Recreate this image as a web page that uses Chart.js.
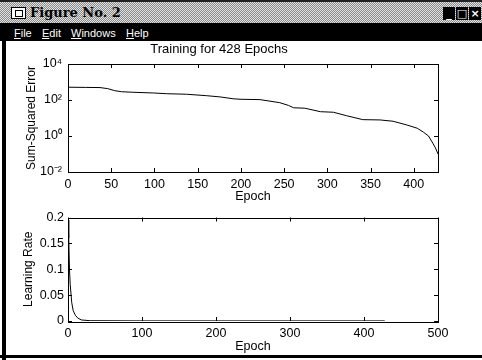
<!DOCTYPE html>
<html lang="en">
<head>
  <meta charset="UTF-8">
  <title>Figure No. 2</title>
  <style>
    body { margin: 0; background: #fff; }
    #win { position: relative; width: 482px; height: 360px; overflow: hidden; background: #fff; font-family: "Liberation Sans", Arial, sans-serif; }
    #topline { position: absolute; left: 0; top: 0; width: 482px; height: 2px; background: #222; }
    #titlebar { position: absolute; left: 0; top: 2px; width: 482px; height: 21px;
      background: repeating-conic-gradient(#8a8a8a 0 25%, #e2e2e2 0 50%) 0 0 / 2px 2px; }
    #titlebar .icon { position: absolute; left: 11px; top: 5px; width: 13px; height: 10px; border: 1px solid #000; background: #fff; }
    #titlebar .icon:after { content: ""; position: absolute; left: 3px; top: 2px; width: 6px; height: 5px; border: 1px solid #000; }
    #titlebar .txt { position: absolute; left: 30px; top: 3px; font: bold 13px "DejaVu Serif", serif; color: #000; }
    .btn { position: absolute; top: 5px; width: 12px; height: 13px; background: #000; color: #fff; font: bold 11px "DejaVu Sans", sans-serif; text-align: center; line-height: 13px; }
    #menubar { position: absolute; left: 0; top: 23px; width: 482px; height: 18px; background: #000; color: #fff; font-size: 11px; }
    #menubar span { position: absolute; top: 4px; }
    #menubar u { text-decoration: underline; }
    #leftborder { position: absolute; left: 2px; top: 41px; width: 4px; height: 319px; background: #000; z-index: 5; }
    #bottomborder { position: absolute; left: 0; top: 355px; width: 482px; height: 3px; background: #000; z-index: 5; }
    canvas { position: absolute; left: 0; }
    #c1 { top: 41px; }
    #c2 { top: 206px; }
  </style>
</head>
<body>
<div id="win">
  <div id="topline"></div>
  <div id="titlebar">
    <div class="icon"></div>
    <div class="txt">Figure No. 2</div>
    <div class="btn" style="left:443px">_</div>
    <div class="btn" style="left:456px">&#9633;</div>
    <div class="btn" style="left:469px">&#215;</div>
  </div>
  <div id="menubar">
    <span style="left:14px"><u>F</u>ile</span>
    <span style="left:42px"><u>E</u>dit</span>
    <span style="left:71px"><u>W</u>indows</span>
    <span style="left:126px"><u>H</u>elp</span>
  </div>
  <div id="leftborder"></div>
  <div id="bottomborder"></div>
  <canvas id="c1" width="482" height="163"></canvas>
  <canvas id="c2" width="482" height="150"></canvas>
</div>

<script src="https://cdn.jsdelivr.net/npm/chart.js"></script>
<script>
  // sum-squared error
  const sseEpochs = [0, 20, 37, 46, 54, 62, 75, 99, 114, 137, 160, 176, 191, 199, 222, 245, 255, 261, 274, 292, 307, 322, 341, 361, 376, 392, 404, 411, 417, 422, 425, 428];
  const sseValues = [513, 501, 490, 427, 331, 288, 269, 245, 224, 209, 174, 148, 117, 110, 105, 71, 50, 37, 35, 22.4, 20.9, 13.5, 8.1, 7.8, 6.6, 4.1, 2.7, 1.66, 1.0, 0.40, 0.22, 0.10];

  // learning rate
  const lrEpochs = [0, 1, 2, 3, 5, 7, 10, 13, 18, 30, 100, 200, 300, 428];
  const lrValues = [0.195, 0.16, 0.10, 0.07, 0.036, 0.02, 0.011, 0.006, 0.002, 0.0006, 0.0002, 0.0002, 0.0002, 0.0002];

  const sseTicksX = [0, 50, 100, 150, 200, 250, 300, 350, 400];
  const sseTicksY = [0.01, 1, 100, 10000];
  const lrTicksX = [0, 100, 200, 300, 400, 500];
  const lrTicksY = [0, 0.05, 0.1, 0.15, 0.2];

  Chart.defaults.font.family = '"Liberation Sans", Arial, Helvetica, sans-serif';
  Chart.defaults.font.size = 12;
  Chart.defaults.color = '#000';

  const supMap = { '-': '\u207B', '0': '\u2070', '1': '\u00B9', '2': '\u00B2', '4': '\u2074' };
  const sup = n => String(n).split('').map(c => supMap[c]).join('');

  // matlab style box with inward ticks on all sides
  const boxTicks = {
    id: 'boxTicks',
    afterDraw(chart) {
      const { ctx, chartArea: a, scales } = chart;
      ctx.save();
      ctx.strokeStyle = '#000';
      ctx.lineWidth = 1;
      ctx.strokeRect(Math.round(a.left) + 0.5, Math.round(a.top) + 0.5, Math.round(a.right - a.left), Math.round(a.bottom - a.top));
      ctx.beginPath();
      scales.x.ticks.forEach(t => {
        const px = Math.round(scales.x.getPixelForValue(t.value)) + 0.5;
        ctx.moveTo(px, a.bottom); ctx.lineTo(px, a.bottom - 4);
        ctx.moveTo(px, a.top); ctx.lineTo(px, a.top + 4);
      });
      scales.y.ticks.forEach(t => {
        const py = Math.round(scales.y.getPixelForValue(t.value)) + 0.5;
        ctx.moveTo(a.left, py); ctx.lineTo(a.left + 4, py);
        ctx.moveTo(a.right, py); ctx.lineTo(a.right - 4, py);
      });
      ctx.stroke();
      ctx.restore();
    }
  };

  const pts = (xs, ys) => xs.map((x, i) => ({ x: x, y: ys[i] }));

  new Chart(document.getElementById('c1'), {
    type: 'line',
    data: {
      datasets: [{
        data: pts(sseEpochs, sseValues),
        borderColor: '#000',
        borderWidth: 1,
        pointRadius: 0,
        tension: 0
      }]
    },
    options: {
      responsive: false,
      animation: false,
      devicePixelRatio: 1,
      layout: { padding: { left: 0, right: 44, top: 0, bottom: 0 } },
      plugins: {
        legend: { display: false },
        tooltip: { enabled: false },
        title: {
          display: true,
          text: 'Training for 428 Epochs',
          font: { size: 13, weight: 'normal' },
          padding: { top: 1, bottom: 6.4 }
        }
      },
      scales: {
        x: {
          type: 'linear', min: 0, max: 428,
          grid: { display: false, drawTicks: false },
          border: { display: false },
          afterBuildTicks: s => { s.ticks = sseTicksX.map(v => ({ value: v })); },
          afterFit: s => { s.height = 32; },
          ticks: { padding: 5, maxRotation: 0, font: { size: 12.5 } },
          title: { display: true, text: 'Epoch', font: { size: 12.5 }, padding: { top: 0, bottom: 0 } }
        },
        y: {
          type: 'logarithmic', min: 0.01, max: 10000,
          grid: { display: false, drawTicks: false },
          border: { display: false },
          afterBuildTicks: s => { s.ticks = sseTicksY.map(v => ({ value: v })); },
          afterFit: s => { s.width = 68; },
          ticks: { padding: 6, font: { size: 12.5 }, callback: v => '10' + sup(Math.round(Math.log10(v))) },
          title: { display: true, text: 'Sum-Squared Error', font: { size: 12 }, padding: { top: 24, bottom: 0 } }
        }
      }
    },
    plugins: [boxTicks]
  });

  new Chart(document.getElementById('c2'), {
    type: 'line',
    data: {
      datasets: [{
        data: pts(lrEpochs, lrValues),
        borderColor: '#000',
        borderWidth: 1,
        pointRadius: 0,
        tension: 0
      }]
    },
    options: {
      responsive: false,
      animation: false,
      devicePixelRatio: 1,
      layout: { padding: { left: 0, right: 44, top: 8, bottom: 0 } },
      plugins: {
        legend: { display: false },
        tooltip: { enabled: false }
      },
      scales: {
        x: {
          type: 'linear', min: 0, max: 500,
          grid: { display: false, drawTicks: false },
          border: { display: false },
          afterBuildTicks: s => { s.ticks = lrTicksX.map(v => ({ value: v })); },
          afterFit: s => { s.height = 35; },
          ticks: { padding: 5, maxRotation: 0, font: { size: 12.5 } },
          title: { display: true, text: 'Epoch', font: { size: 12.5 }, padding: { top: 0, bottom: 2 } }
        },
        y: {
          type: 'linear', min: 0, max: 0.2,
          grid: { display: false, drawTicks: false },
          border: { display: false },
          afterBuildTicks: s => { s.ticks = lrTicksY.map(v => ({ value: v })); },
          afterFit: s => { s.width = 68; },
          ticks: { padding: 4, font: { size: 12.5 }, callback: v => String(v) },
          title: { display: true, text: 'Learning Rate', font: { size: 12 }, padding: { top: 21, bottom: 0 } }
        }
      }
    },
    plugins: [boxTicks]
  });
</script>
</body>
</html>
